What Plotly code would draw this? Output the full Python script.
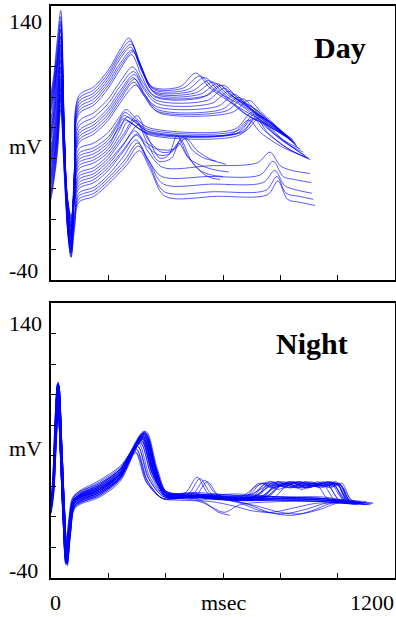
import plotly.graph_objects as go

# ---------------- data (ms, mV) ----------------
x_ticks = [200, 400, 600, 800, 1000]
y_ticks = [-20, 0, 20, 40, 60, 80, 100, 120]
y_labels = ["140", "mV", "-40"]
x_labels = ["0", "msec", "1200"]
panel_titles = ["Day", "Night"]

day_ms = [
    [0,10,22,34,46,58,70,82,97,150,200,240,272,307,352,450,505,555,650,740,820],
    [0,10,22,34,46,58,70,82,97,150,200,240,276,311,356,460,520,570,660,745,825],
    [0,10,22,34,46,58,70,82,97,150,200,240,280,315,360,475,535,585,670,750,830],
    [0,10,22,34,46,58,70,82,97,150,200,240,278,313,358,490,550,600,680,760,835],
    [0,10,22,34,46,58,70,82,97,150,200,240,283,318,363,505,565,615,690,765,840],
    [0,10,22,34,46,58,70,82,97,150,200,240,286,321,366,520,580,630,700,770,845],
    [0,10,22,34,46,58,70,82,97,150,200,240,281,316,361,540,600,650,730,790,850],
    [0,10,22,34,46,58,70,82,97,150,200,240,285,320,365,530,590,630,700,770,835],
    [0,10,22,34,46,58,70,82,97,150,200,240,288,323,368,545,605,645,715,780,840],
    [0,10,22,34,46,58,70,82,97,150,200,240,290,325,370,560,620,660,725,785,845],
    [0,10,22,34,46,58,70,82,97,150,200,240,287,322,367,580,640,680,740,795,850],
    [0,10,22,34,46,58,70,82,97,150,200,240,292,327,372,595,655,695,750,805,855],
    [0,10,22,34,46,58,70,82,97,150,200,240,289,324,369,610,670,710,760,810,858],
    [0,10,22,34,46,58,70,82,97,150,200,240,295,330,375,630,690,730,775,820,860],
    [0,10,22,34,46,58,70,82,97,150,200,235,262,297,342,640,700,740,800,870],
    [0,10,22,34,46,58,70,82,97,150,200,232,258,293,338,650,710,750,810,880],
    [0,10,22,34,46,58,70,82,97,150,200,230,255,290,335,660,720,760,820,885],
    [0,10,22,34,46,58,70,82,97,150,200,238,265,300,345,670,730,770,830,890],
    [0,10,22,34,46,58,70,82,97,150,200,228,252,287,332,645,705,745,820,895],
    [0,10,22,34,46,58,70,82,97,150,200,235,260,295,340,630,690,730,810,900],
    [0,10,22,34,46,58,70,82,97,150,200,240,268,303,348,655,715,755,830,905],
    [0,10,22,34,46,58,70,82,97,150,200,250,300,335,380,410,440,475,520,560,600],
    [0,10,22,34,46,58,70,82,97,150,200,250,296,331,376,420,452,490,530,560,590],
    [0,10,22,34,46,58,70,82,97,150,200,255,305,340,385,425,460,495,535,575],
    [0,10,22,34,46,58,70,82,97,150,200,250,292,327,372,430,470,510,560,610],
    [0,10,22,34,46,58,70,82,97,150,200,250,298,333,378,415,445,480,540,580,620],
    [0,10,22,34,46,58,70,82,97,150,200,255,300,340,390,550,720,764,800,840,903],
    [0,10,22,34,46,58,70,82,97,150,200,252,296,336,386,550,730,775,810,850,908],
    [0,10,22,34,46,58,70,82,97,150,200,258,302,342,392,560,740,781,815,860,910],
    [0,10,22,34,46,58,70,82,97,150,200,260,305,345,395,570,750,788,820,865,915],
    [0,10,22,34,46,58,70,82,97,150,200,262,308,348,398,580,755,792,825,870,921],
]
day_mv = [
    [83,95,118,137,62,-8,-25,30,81,87,98,111,119,104,87,87,96,86,74,64,55],
    [81,92,114,133,60,-6,-22,31,79,85,96,109,117,102,86,86,94,85,75,63,54],
    [79,90,110,128,59,-4,-20,31,77,83,94,107,115,100,85,85,93,84,70,62,53],
    [77,88,107,124,58,-2,-18,31,75,81,92,105,113,99,84,84,91,83,69,61,52],
    [75,86,104,120,58,1,-15,32,73,79,90,102,111,97,83,83,90,82,72,64,51],
    [73,84,102,117,58,4,-12,34,71,77,88,100,110,96,82,82,89,81,74,63,52],
    [71,82,100,114,58,6,-10,34,69,75,86,98,108,94,81,81,88,80,68,60,50],
    [66,80,104,130,57,-5,-22,26,64,70,79,90,100,90,80,80,88,81,72,62,53],
    [63,76,100,125,56,-1,-18,27,61,67,76,87,97,87,78,78,86,79,72,61,52],
    [60,72,96,120,55,2,-15,27,58,64,73,84,95,85,76,76,84,77,68,59,51],
    [58,70,92,115,55,5,-12,27,56,62,71,82,93,83,74,74,82,75,65,58,50],
    [56,68,89,110,54,7,-10,27,54,60,69,80,92,82,72,72,80,73,65,57,49],
    [54,66,86,105,53,9,-8,27,52,58,67,78,90,81,71,71,79,72,64,56,48],
    [52,64,82,100,52,12,-5,27,50,56,65,76,88,80,70,70,78,71,63,55,47],
    [48,60,80,112,47,-3,-20,17,46,50,57,66,72,66,60,59,70,62,53,46],
    [45,57,77,108,46,0,-16,18,43,47,54,63,70,65,59,58,69,61,51,44],
    [43,55,74,104,46,3,-12,19,41,45,52,61,68,64,58,57,68,60,50,42],
    [41,53,71,100,46,6,-8,20,39,43,50,60,67,63,57,57,67,59,49,41],
    [39,51,69,97,46,9,-5,20,37,41,48,58,66,62,57,56,66,58,47,40],
    [37,49,67,94,46,11,-2,20,35,39,46,57,65,61,56,56,65,57,47,40],
    [35,47,64,90,45,13,0,20,33,37,44,55,64,60,55,55,66,57,46,39],
    [32,44,62,92,42,5,-10,12,30,34,42,55,68,55,40,42,55,42,32,29,28],
    [30,42,60,88,42,8,-6,12,28,32,40,53,65,52,38,40,52,38,30,27,26],
    [28,40,58,85,42,10,-3,13,26,30,38,50,62,52,44,45,54,45,40,38],
    [26,38,56,82,41,12,0,12,24,28,36,48,58,51,46,46,53,45,39,36],
    [24,36,54,80,41,13,2,12,22,26,34,45,55,48,42,43,50,40,34,32,31],
    [22,34,54,86,38,2,-14,4,20,24,32,45,56,44,34,35,37,44,35,32,30],
    [19,31,51,82,36,-1,-17,1,17,21,29,41,52,40,28,28,29,38,28,26,24],
    [17,29,48,78,34,-4,-20,-1,15,19,27,39,50,38,23,23,24,32,22,19,17],
    [15,27,46,75,32,-6,-23,-4,13,17,25,37,48,35,18,18,19,28,17,15,13],
    [13,25,43,72,30,-8,-25,-6,11,15,23,35,45,32,15,15,16,25,13,11,9],
]

night_ms = [
    [0,8,17,25,35,45,54,66,82,170,240,322,362,400,500,660,715,765,815,865,915,950,990,1040],
    [0,6,14,22,32,42,51,63,80,170,240,318,358,400,500,670,725,775,825,875,925,965,1005,1050],
    [0,8,17,25,35,45,54,66,82,170,240,325,365,400,500,685,740,790,840,890,940,975,1015,1045],
    [0,9,19,28,38,48,57,69,85,170,240,330,370,405,500,695,750,800,850,900,950,985,1020,1060],
    [0,8,17,25,35,45,54,66,82,170,240,320,360,400,500,705,760,810,860,910,960,995,1030,1070],
    [0,6,14,22,32,42,51,63,80,170,240,315,355,400,500,715,770,820,870,920,970,1000,1035,1080],
    [0,8,17,25,35,45,54,66,82,170,240,327,367,405,500,725,780,830,880,930,980,1005,1040,1090],
    [0,9,19,28,38,48,57,69,85,170,240,322,362,400,500,735,790,840,890,940,990,1010,1045,1100],
    [0,8,17,25,35,45,54,66,82,170,240,318,358,400,500,745,800,850,900,950,995,1015,1050,1110],
    [0,6,14,22,32,42,51,63,80,170,240,324,364,400,500,755,810,860,910,960,985,1030,1124],
    [0,8,17,25,35,45,54,66,82,170,240,320,360,400,500,770,820,870,920,965,1005,1060],
    [0,9,19,28,38,48,57,69,85,170,240,326,366,405,500,680,735,785,835,885,930,970,1040],
    [0,8,17,25,35,45,54,66,82,170,240,316,356,400,500,700,755,805,855,905,955,995,1035,1115],
    [0,6,14,22,32,42,51,63,80,170,240,321,361,400,500,730,785,835,885,935,985,1010,1045,1095],
    [0,8,17,25,35,45,54,66,82,170,240,318,358,400,500,690,745,795,845,895,945,985,1025,1055],
    [0,6,14,22,32,42,51,63,80,170,240,323,363,400,500,720,775,825,875,925,975,1005,1040,1085],
    [0,9,19,28,38,48,57,69,85,170,240,316,356,400,500,710,765,815,865,915,965,1000,1035,1065],
    [0,8,17,25,35,45,54,66,82,170,240,328,368,405,500,740,795,845,895,945,990,1015,1050,1105],
    [0,8,17,25,35,45,54,66,82,170,240,322,362,400,500,650,800,950,1040],
    [0,9,19,28,38,48,57,69,85,170,240,328,368,405,500,650,800,950,1050],
    [0,6,14,22,32,42,51,63,80,170,240,315,355,400,500,650,800,950,1060],
    [0,8,17,25,35,45,54,66,82,170,240,330,370,410,500,650,800,950,1120],
    [0,9,19,28,38,48,57,69,85,170,240,319,359,400,500,650,800,950,1045],
    [0,8,17,25,35,45,54,66,82,170,240,324,364,400,500,650,800,950,1080],
    [0,6,14,22,32,42,51,63,80,170,240,312,352,400,500,650,800,950,1035],
    [0,8,17,25,35,45,54,66,82,170,240,326,366,405,500,650,800,950,1100],
    [0,6,14,22,32,42,51,63,80,170,240,295,335,390,440,480,520,560,640,800,950,1040],
    [0,8,17,25,35,45,54,66,82,170,240,300,340,395,450,495,535,575,650,800,950,1045],
    [0,9,19,28,38,48,57,69,85,170,240,292,332,390,460,505,545,585,660,800,950,1050],
    [0,6,14,22,32,42,51,63,80,170,240,305,345,395,430,470,510,550,630,800,950,1035],
    [0,8,17,25,35,45,54,66,82,170,240,298,338,390,440,500,545,585,624],
    [0,9,19,28,38,48,57,69,85,170,240,302,342,395,450,520,565,605,660,800,950,1040],
    [0,8,17,25,35,45,54,66,82,170,240,310,350,400,450,580,660,730,810,890,960,1050],
    [0,6,14,22,32,42,51,63,80,170,240,320,360,400,450,600,690,760,840,910,980,1060],
    [0,9,19,28,38,48,57,69,85,170,240,296,336,390,440,560,640,700,770,850,930,1040],
    [0,8,17,25,35,45,54,66,82,170,240,314,354,400,450,620,720,800,870,940,1000,1070],
]
night_mv = [
    [6,20,60,86,46,0,-30,-8,10,18,28,55,30,15,14,13,20,23,20,23,20,21,11,9],
    [4,16,55,84,44,-2,-28,-6,8,15,25,53,29,14,13,12,22,19,22,19,22,21,11,9],
    [8,22,62,88,48,3,-26,-4,12,22,31,56,32,17,15,14,19,23,19,23,20,22,12,10],
    [3,15,52,83,45,1,-31,-9,7,14,24,54,30,13,13,12,22,20,23,20,22,22,11,9],
    [10,24,63,87,47,2,-24,-2,13,23,32,52,29,16,14,13,20,23,20,22,20,22,11,8],
    [5,17,56,85,45,-1,-29,-7,9,18,28,50,28,14,13,13,22,19,22,20,23,21,10,9],
    [7,21,60,86,46,1,-27,-5,11,20,30,55,31,15,14,13,19,23,20,23,20,22,11,9],
    [2,14,50,82,44,0,-32,-10,6,13,23,53,30,13,13,12,23,20,22,19,22,21,10,8],
    [9,23,62,87,47,2,-25,-3,12,21,31,51,29,16,14,13,20,22,20,23,21,20,11,9],
    [6,18,57,85,45,0,-28,-6,10,18,28,54,30,15,14,13,22,19,22,20,21,11,9],
    [4,18,58,85,45,1,-29,-7,9,16,26,52,29,14,13,12,20,23,20,21,11,9],
    [7,19,56,86,46,2,-27,-5,11,19,29,55,31,15,14,13,22,20,23,19,20,11,10],
    [11,25,64,88,48,3,-23,-1,14,24,33,50,28,16,15,13,19,22,19,23,20,23,11,8],
    [3,15,54,84,44,-1,-30,-8,7,14,25,53,30,13,13,12,21,19,23,20,22,21,10,9],
    [5,18,56,85,45,0,-29,-7,9,17,27,52,29,14,14,13,21,18,22,19,22,21,11,9],
    [8,21,60,86,46,1,-26,-4,11,20,29,54,31,15,13,12,19,22,18,22,19,22,10,9],
    [4,16,54,84,44,0,-30,-8,8,15,26,51,28,14,14,13,23,20,23,20,23,21,11,9],
    [9,22,61,87,47,2,-25,-3,12,21,31,55,31,16,13,12,20,23,19,22,20,22,10,8],
    [8,22,61,87,47,2,-26,-4,12,20,30,54,31,16,15,14,13,12,10],
    [5,17,55,84,45,0,-30,-8,8,17,27,52,29,14,13,13,12,11,9],
    [12,26,64,87,47,2,-22,0,14,22,31,49,28,17,14,15,13,12,10],
    [3,16,54,84,44,-1,-31,-9,6,15,25,56,32,14,12,11,12,11,9],
    [9,21,60,86,46,2,-25,-3,12,20,30,51,29,16,16,14,13,13,10],
    [6,20,58,85,45,1,-28,-6,10,18,28,53,30,15,13,12,11,11,10],
    [10,24,62,86,46,1,-24,-2,13,21,31,48,27,16,15,13,12,12,9],
    [4,18,57,85,45,0,-29,-7,9,17,27,55,31,15,14,13,13,12,10],
    [6,19,57,85,45,0,-28,-6,10,17,26,45,24,12,13,15,25,15,11,11,11,9],
    [9,23,62,87,47,2,-25,-3,12,19,28,47,25,13,14,15,24,15,12,11,10,9],
    [4,16,53,83,44,0,-30,-8,8,16,25,43,23,12,13,14,23,14,11,11,10,9],
    [7,21,60,86,46,1,-27,-5,11,18,27,48,26,14,14,16,26,15,12,12,11,9],
    [5,19,56,84,45,0,-29,-7,9,16,25,44,23,12,12,11,8,3,1],
    [8,20,58,85,46,1,-26,-4,11,18,27,46,25,13,13,11,6,3,8,10,10,9],
    [6,20,59,85,46,1,-28,-6,10,18,28,49,27,13,13,12,9,4,2,5,9,9],
    [3,16,54,84,44,-1,-31,-9,7,16,26,51,29,14,14,12,8,3,1,4,9,8],
    [10,22,60,86,46,2,-24,-2,12,19,28,42,22,12,11,10,7,4,3,6,9,9],
    [7,21,60,86,46,1,-27,-5,11,19,29,50,28,14,13,11,7,3,2,5,9,8],
]

# ---------------- figure ----------------
W, H = 396, 617
LINE = dict(color="rgba(0,0,255,0.72)", width=0.9, shape="spline", smoothing=0.9)
SERIF = "Liberation Serif, Times New Roman, serif"

fig = go.Figure()
for xs, ys in zip(day_ms, day_mv):
    fig.add_trace(go.Scatter(x=xs, y=ys, mode="lines", line=LINE,
                             xaxis="x", yaxis="y", showlegend=False, hoverinfo="skip"))
for xs, ys in zip(night_ms, night_mv):
    fig.add_trace(go.Scatter(x=xs, y=ys, mode="lines", line=LINE,
                             xaxis="x2", yaxis="y2", showlegend=False, hoverinfo="skip"))

xdom = [51 / W, 395 / W]
ydom_top = [1 - 280 / H, 1 - 6 / H]
ydom_bot = [1 - 578 / H, 1 - 303 / H]

common_x = dict(range=[0, 1200], domain=xdom, showline=True, linecolor="black",
                linewidth=2, mirror=True, ticks="inside", ticklen=5, tickwidth=1,
                tickcolor="black", tickvals=x_ticks, showticklabels=False,
                showgrid=False, zeroline=False, fixedrange=True)
common_y = dict(range=[-40, 140], showline=True, linecolor="black",
                linewidth=2, mirror=True, ticks="inside", ticklen=5, tickwidth=1,
                tickcolor="black", tickvals=y_ticks, showticklabels=False,
                showgrid=False, zeroline=False, fixedrange=True)

fig.update_layout(
    width=W, height=H, margin=dict(l=0, r=0, t=0, b=0),
    paper_bgcolor="white", plot_bgcolor="white",
    xaxis=dict(**common_x, anchor="y"),
    yaxis=dict(**common_y, domain=ydom_top, anchor="x"),
    xaxis2=dict(**common_x, anchor="y2"),
    yaxis2=dict(**common_y, domain=ydom_bot, anchor="x2"),
)

def ann(text, xpx, ypx, xanchor="left", size=22, bold=False):
    fig.add_annotation(text=f"<b>{text}</b>" if bold else text,
                       x=xpx / W, y=1 - ypx / H, xref="paper", yref="paper",
                       xanchor=xanchor, yanchor="middle", showarrow=False,
                       font=dict(family=SERIF, size=size, color="black"))

# y-axis labels for both panels
for ys in ([22, 146, 270], [323, 448, 570]):
    for lab, yp in zip(y_labels, ys):
        ann(lab, 7, yp)

# x-axis labels
for lab, xp in zip(x_labels, [55, 223.5, 372]):
    ann(lab, xp, 602, xanchor="center")

ann(panel_titles[0], 340, 48, xanchor="center", size=30, bold=True)
ann(panel_titles[1], 311.5, 343, xanchor="center", size=30, bold=True)

fig.write_html("out.html", config={"displayModeBar": False, "staticPlot": True},
               post_script="document.body.style.margin='0';document.body.style.overflow='hidden';")
